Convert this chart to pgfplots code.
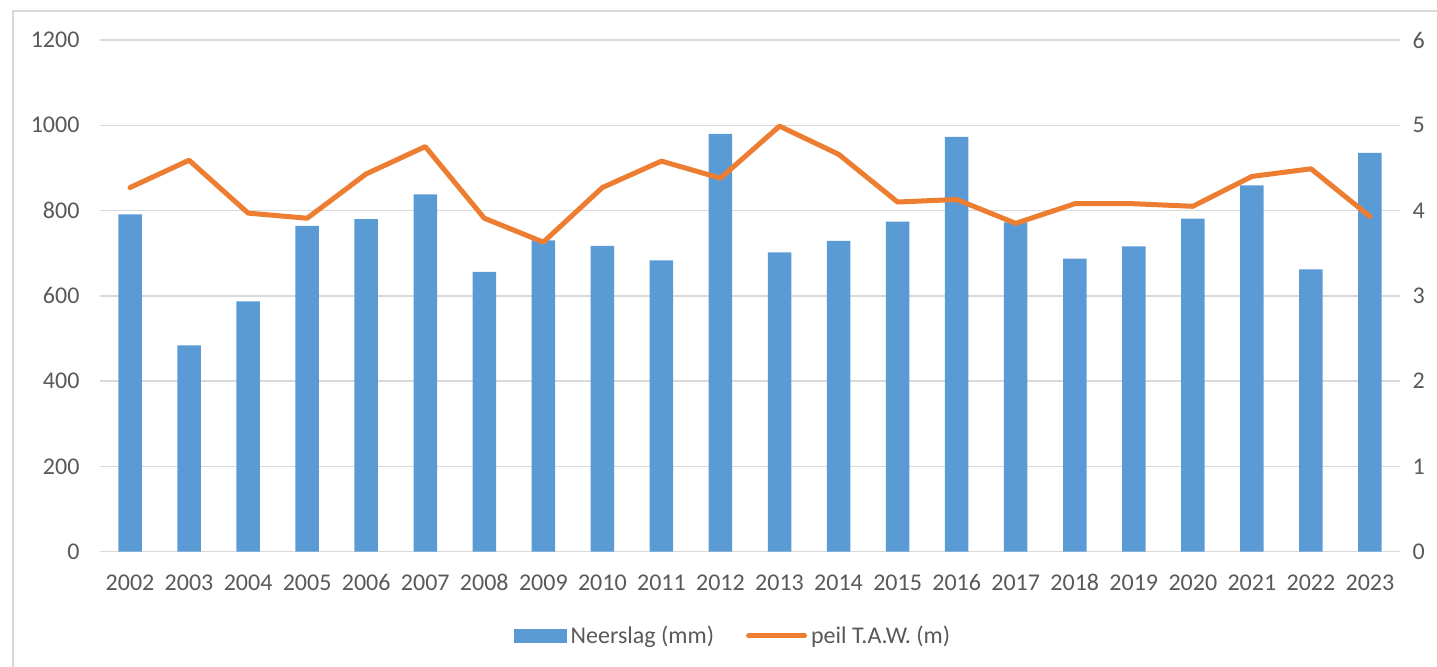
\documentclass[border=0pt]{standalone}
\usepackage{pgfplots}
\pgfplotsset{compat=1.18}
\usepackage{fontspec}
\setmainfont{Carlito}
\definecolor{barblue}{HTML}{5B9BD5}
\definecolor{lineorange}{HTML}{ED7D31}
\definecolor{txtgray}{HTML}{595959}
\definecolor{gridgray}{HTML}{D9D9D9}
\definecolor{bordergray}{HTML}{D9D9D9}
\begin{document}
\begin{tikzpicture}
\path[use as bounding box] (0,0) rectangle (718.5pt,333.5pt);
\draw[bordergray,line width=0.75pt] (6.5pt,0) -- (6.5pt,328pt) -- (718.5pt,328pt);
\pgfplotsset{
  common/.style={
    at={(50.25pt,57.65pt)}, anchor=south west,
    scale only axis, width=649.5pt, height=255.85pt,
    xmin=-0.5, xmax=21.5,
    axis line style={draw=none},
    tick style={draw=none},
    /pgf/number format/assume math mode=true,
    ticklabel style={font=\fontsize{12}{14}\selectfont, text=txtgray},
  }
}
\begin{axis}[common,
  ymin=0, ymax=1200, ytick={0,200,...,1200},
  ymajorgrids, grid style={gridgray, line width=0.75pt},
  xtick={0,...,21},
  xticklabels={2002,2003,2004,2005,2006,2007,2008,2009,2010,2011,2012,2013,2014,2015,2016,2017,2018,2019,2020,2021,2022,2023},
  xticklabel style={yshift=-7.5pt, text height=8.5pt, text depth=0pt},
  yticklabel style={xshift=-7pt},
  /pgf/number format/1000 sep={},
]
\addplot[ybar, bar width=11.75pt, fill=barblue, draw=none, bar shift=0pt] coordinates {
(0,791) (1,484) (2,587) (3,764) (4,780) (5,838) (6,656) (7,730) (8,717) (9,683)
(10,980) (11,702) (12,729) (13,774) (14,973) (15,772) (16,687) (17,716) (18,781)
(19,859) (20,662) (21,935)};
\end{axis}
\begin{axis}[common,
  ymin=0, ymax=6, ytick={0,1,...,6},
  axis y line*=right, axis x line=none,
  yticklabel style={xshift=3pt},
  legend columns=2,
  legend style={at={(0.4877,-0.1647)}, anchor=center, draw=none, fill=none,
    font=\fontsize{12}{14}\selectfont, text=txtgray,
    /tikz/every even column/.append style={column sep=14pt}},
]
\addlegendimage{legend image code/.code={\fill[barblue] (0pt,-3.25pt) rectangle (26pt,3.25pt);}}
\addlegendentry{Neerslag (mm)}
\addplot[lineorange, line width=2.5pt, line join=round, line cap=round, mark=none,
  legend image code/.code={\draw[lineorange, line width=2.5pt, line cap=round] (0pt,0pt) -- (28pt,0pt);}] coordinates {
(0,4.27) (1,4.59) (2,3.97) (3,3.91) (4,4.43) (5,4.75) (6,3.91) (7,3.63) (8,4.27) (9,4.58)
(10,4.38) (11,4.99) (12,4.66) (13,4.10) (14,4.13) (15,3.85) (16,4.08) (17,4.08) (18,4.05)
(19,4.40) (20,4.49) (21,3.93)};
\addlegendentry{peil T.A.W. (m)}
\end{axis}
\end{tikzpicture}
\end{document}
